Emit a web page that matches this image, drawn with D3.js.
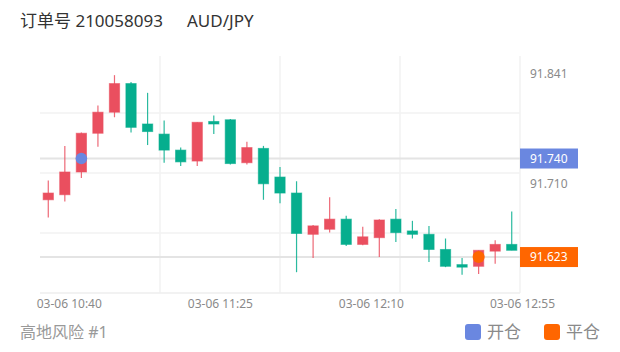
<!DOCTYPE html>
<html>
<head>
<meta charset="utf-8">
<script src="https://cdn.jsdelivr.net/npm/d3@7"></script>
<style>
  body { margin: 0; background: #fff; }
  svg text { font-family: "Noto Sans", "Noto Sans CJK SC", sans-serif; }
</style>
</head>
<body>
<div id="chart"></div>
<script>
// 5-minute candles, 03-06 10:35 .. 12:55
const times = ["10:35","10:40","10:45","10:50","10:55","11:00","11:05","11:10","11:15","11:20",
               "11:25","11:30","11:35","11:40","11:45","11:50","11:55","12:00","12:05","12:10",
               "12:15","12:20","12:25","12:30","12:35","12:40","12:45","12:50","12:55"];
const opens  = [91.691,91.697,91.724,91.770,91.795,91.829,91.781,91.769,91.750,91.737,
                91.784,91.786,91.735,91.752,91.718,91.699,91.650,91.656,91.668,91.638,
                91.646,91.668,91.654,91.650,91.632,91.614,91.612,91.630,91.638];
const highs  = [91.714,91.755,91.771,91.803,91.839,91.831,91.818,91.785,91.753,91.783,
                91.791,91.787,91.760,91.755,91.730,91.713,91.661,91.694,91.672,91.659,
                91.668,91.680,91.666,91.660,91.645,91.622,91.631,91.643,91.677];
const lows   = [91.670,91.689,91.717,91.754,91.789,91.771,91.756,91.735,91.731,91.731,
                91.769,91.733,91.733,91.691,91.687,91.605,91.622,91.652,91.636,91.637,
                91.623,91.641,91.645,91.617,91.611,91.602,91.603,91.615,91.631];
const closes = [91.699,91.724,91.770,91.795,91.829,91.777,91.772,91.750,91.736,91.783,
                91.781,91.734,91.753,91.710,91.699,91.651,91.660,91.668,91.638,91.647,
                91.667,91.652,91.650,91.632,91.612,91.611,91.631,91.638,91.631];

const yTickLabels = [91.841, 91.710];
const xTickLabels = ["10:40", "11:25", "12:10", "12:55"];

// open / close markers
const openTime = "10:45", openPrice = 91.740;
const closeTime = "12:45", closePrice = 91.623;

const title = "订单号 210058093";
const symbol = "AUD/JPY";
const footer = "高地风险 #1";
const legendItems = ["开仓", "平仓"];

const candles = times.map((t, i) => ({
    time: t, open: opens[i], high: highs[i], low: lows[i], close: closes[i]
}));

const width = 620, height = 352;
const plot = { left: 40, right: 520, top: 53, bottom: 293 };
const upColor = "#ea4f5f", downColor = "#06ae8e";
const openColor = "#6a87e0", closeColor = "#ff6600";

const svg = d3.select("#chart").append("svg")
    .attr("width", width)
    .attr("height", height);

svg.append("rect").attr("width", width).attr("height", height).attr("fill", "#fff");

// scales
const x = d3.scaleBand()
    .domain(times)
    .range([plot.left, plot.right]);

const y = d3.scaleLinear()
    .domain([91.5803, 91.8653])
    .range([plot.bottom, plot.top]);

const parseT = d3.timeParse("%H:%M");
const xt = d3.scaleTime()
    .domain([parseT(times[0]), parseT(times[times.length - 1])])
    .range([52, 522]);

// grid
const grid = svg.append("g").attr("class", "grid");
const ph = plot.bottom - plot.top;
d3.range(1, 4).forEach(i => {
    grid.append("line")
        .attr("x1", plot.left).attr("x2", plot.right)
        .attr("y1", plot.top + i * ph / 4).attr("y2", plot.top + i * ph / 4)
        .attr("stroke", "#f2f2f2").attr("stroke-width", 1.5);
});
d3.range(1, 5).forEach(i => {
    const gx = plot.left + i * (plot.right - plot.left) / 4;
    grid.append("line")
        .attr("x1", gx).attr("x2", gx)
        .attr("y1", 56).attr("y2", plot.bottom)
        .attr("stroke", "#f2f2f2").attr("stroke-width", 1.5);
});
// bottom axis line
grid.append("line")
    .attr("x1", plot.left).attr("x2", plot.right)
    .attr("y1", plot.bottom).attr("y2", plot.bottom)
    .attr("stroke", "#eeeeee").attr("stroke-width", 1.5);

// price lines
[openPrice, closePrice].forEach(p => {
    svg.append("line")
        .attr("x1", plot.left).attr("x2", plot.right)
        .attr("y1", y(p)).attr("y2", y(p))
        .attr("stroke", "#e4e4e4").attr("stroke-width", 2);
});

// candles
const bw = x.bandwidth() * 0.62;
const cg = svg.append("g").attr("class", "candles");
const c = cg.selectAll("g").data(candles).enter().append("g");

c.append("line")
    .attr("x1", d => x(d.time) + x.bandwidth() / 2)
    .attr("x2", d => x(d.time) + x.bandwidth() / 2)
    .attr("y1", d => y(d.high))
    .attr("y2", d => y(d.low))
    .attr("stroke", d => d.close >= d.open ? upColor : downColor)
    .attr("stroke-opacity", 0.85)
    .attr("stroke-width", 1.2);

c.append("rect")
    .attr("x", d => x(d.time) + (x.bandwidth() - bw) / 2)
    .attr("width", bw)
    .attr("y", d => y(Math.max(d.open, d.close)))
    .attr("height", d => Math.max(1.5, Math.abs(y(d.open) - y(d.close))))
    .attr("fill", d => d.close >= d.open ? upColor : downColor)
    .attr("stroke", d => d.close >= d.open ? upColor : downColor)
    .attr("stroke-opacity", 0.6)
    .attr("stroke-width", 1);

// open / close dots
svg.append("circle")
    .attr("cx", x(openTime) + x.bandwidth() / 2)
    .attr("cy", y(openPrice))
    .attr("r", 5.8)
    .attr("fill", openColor);
svg.append("circle")
    .attr("cx", x(closeTime) + x.bandwidth() / 2)
    .attr("cy", y(closePrice))
    .attr("r", 6)
    .attr("fill", closeColor);

// y labels
svg.selectAll(".ylab").data(yTickLabels).enter().append("text")
    .attr("class", "ylab")
    .attr("x", 530)
    .attr("y", d => y(d))
    .attr("dy", "0.35em")
    .attr("font-size", 12)
    .attr("fill", "#8a8a8a")
    .text(d => d.toFixed(3));

// price tags
[[openPrice, openColor], [closePrice, closeColor]].forEach(([p, col]) => {
    svg.append("rect")
        .attr("x", 520).attr("y", y(p) - 10)
        .attr("width", 58).attr("height", 20)
        .attr("fill", col);
    svg.append("text")
        .attr("x", 530).attr("y", y(p))
        .attr("dy", "0.35em")
        .attr("font-size", 12)
        .attr("fill", "#fff")
        .text(p.toFixed(3));
});

// x axis labels
const xAxis = d3.axisBottom(xt)
    .tickValues(xTickLabels.map(parseT))
    .tickSize(0)
    .tickFormat(d => "03-06 " + d3.timeFormat("%H:%M")(d));
const xg = svg.append("g")
    .attr("transform", `translate(0,${plot.bottom})`)
    .call(xAxis);
xg.select(".domain").remove();
xg.selectAll("text")
    .attr("y", 6)
    .attr("dy", "0.71em")
    .attr("font-size", 12)
    .attr("font-family", "Noto Sans, sans-serif")
    .attr("fill", "#8a8a8a");

// title
svg.append("text")
    .attr("x", 20).attr("y", 27)
    .attr("font-size", 17).attr("fill", "#333")
    .text(title);
svg.append("text")
    .attr("x", 187).attr("y", 27)
    .attr("font-size", 17).attr("fill", "#333")
    .text(symbol);

// footer
svg.append("text")
    .attr("x", 20).attr("y", 338)
    .attr("font-size", 16).attr("fill", "#999")
    .text(footer);

// legend
const legend = svg.append("g").attr("class", "legend");
const legendX = [465, 544];
const legendColors = [openColor, closeColor];
legendItems.forEach((name, i) => {
    legend.append("rect")
        .attr("x", legendX[i]).attr("y", 324)
        .attr("width", 16).attr("height", 16)
        .attr("rx", 3)
        .attr("fill", legendColors[i]);
    legend.append("text")
        .attr("x", legendX[i] + 22).attr("y", 338)
        .attr("font-size", 17).attr("fill", "#8a8a8a")
        .text(name);
});
</script>
</body>
</html>
